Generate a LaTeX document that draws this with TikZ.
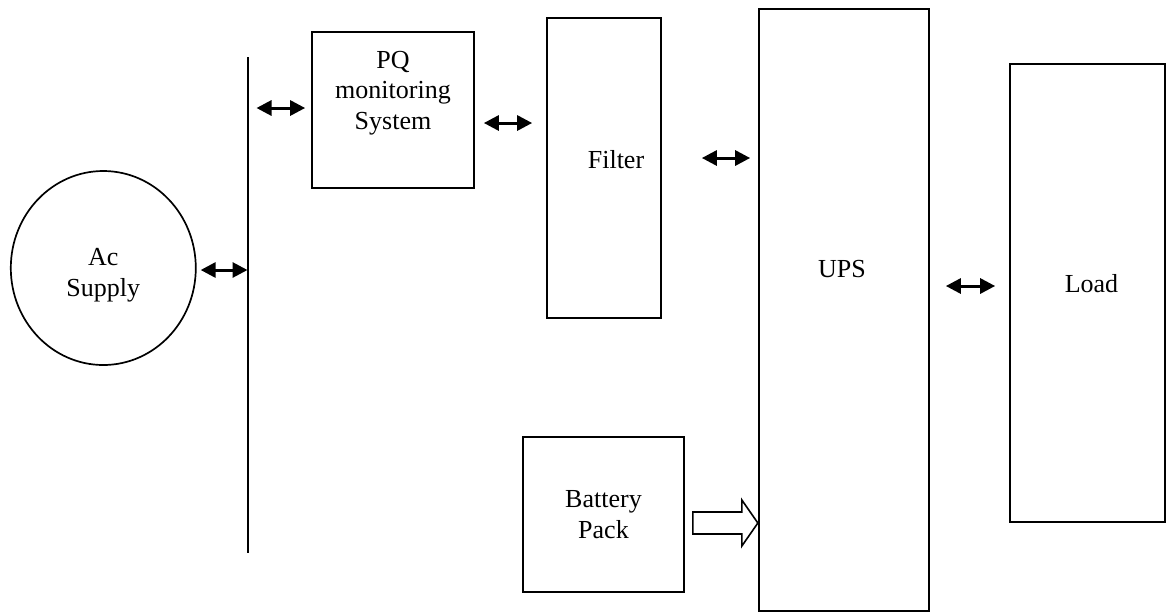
\documentclass[tikz,border=0pt]{standalone}
\usepackage{fontspec}
\setmainfont{Liberation Serif}
\usetikzlibrary{arrows.meta,positioning,shapes.geometric}

\begin{document}
\begin{tikzpicture}[x=0.5pt,y=-0.5pt,
  every node/.style={align=center,font=\fontsize{13}{15.3}\selectfont},
  box/.style={draw,line width=0.85pt,inner sep=0pt},
  dbl/.style={{Triangle[length=7.5pt,width=7.5pt]}-{Triangle[length=7.5pt,width=7.5pt]},line width=1.5pt},
  hollow/.style={draw,line width=0.8pt,line join=miter,fill=white}]
  \useasboundingbox (0,0) rectangle (1166,612);
  % source and bus
  \node[box,ellipse,minimum width=92.5pt,minimum height=97pt] (ac) at (103.3,268) {};
  \node (actxt) at ([yshift=-3.5pt]ac.center) {Ac\\Supply};
  \coordinate (bustop) at (247.5,57);
  \coordinate (busbot) at (247.5,553);
  \draw[line width=1pt] (bustop) -- (busbot);
  % blocks
  \node[box,minimum width=81pt,minimum height=78pt] (pq) at (393,110) {};
  \node[anchor=north,inner sep=0pt] (pqtxt) at ([yshift=-9.7pt]pq.north) {PQ\\monitoring\\System};
  \node[box,minimum width=57pt,minimum height=150pt] (filter) at (604,168) {};
  \node (filtertxt) at ([xshift=6pt,yshift=4pt]filter.center) {Filter};
  \node[box,minimum width=85pt,minimum height=301pt] (ups) at (844,310) {};
  \node (upstxt) at ([xshift=-1pt,yshift=20.5pt]ups.center) {UPS};
  \node[box,minimum width=77.5pt,minimum height=229pt] (load) at (1087.5,293) {};
  \node (loadtxt) at ([xshift=2pt,yshift=4.5pt]load.center) {Load};
  \node[box,minimum width=80.5pt,minimum height=77.5pt] (bat) at (603.5,514.5) {Battery\\Pack};
  % links
  \draw[dbl,shorten <=2pt] ([yshift=-1pt]ac.east) -- ([yshift=-1pt]ac.east -| bustop);
  \draw[dbl,shorten <=4.5pt,shorten >=3pt] ([yshift=1pt]pq.west -| bustop) -- ([yshift=1pt]pq.west);
  \draw[dbl,shorten <=4.5pt,shorten >=7pt] ([yshift=-6.5pt]pq.east) -- ([yshift=-6.5pt]pq.east -| filter.west);
  \draw[dbl,shorten <=20pt,shorten >=4pt] ([yshift=5pt]filter.east) -- ([yshift=5pt]filter.east -| ups.west);
  \draw[dbl,shorten <=8pt,shorten >=7pt] ([yshift=3.5pt]load.west -| ups.east) -- ([yshift=3.5pt]load.west);
  \draw[hollow] ([shift={(4pt,1.25pt)}]bat.east) -- ++(24.5pt,0pt) -- ++(0pt,6pt)
    -- ++(8pt,-11.5pt) -- ++(-8pt,-11.5pt) -- ++(0pt,6pt) -- ++(-24.5pt,0pt) -- cycle;
\end{tikzpicture}
\end{document}
